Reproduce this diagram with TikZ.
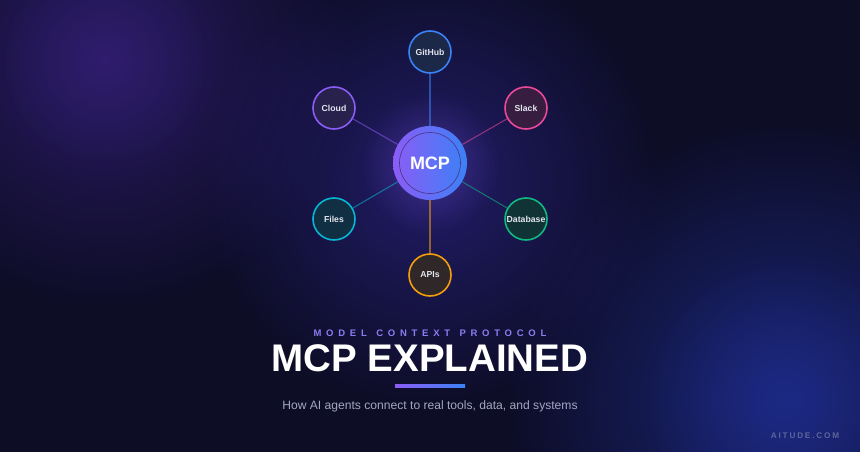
\documentclass[tikz,border=0pt]{standalone}
\usepackage{fontspec}
\setmainfont{Liberation Sans}
\usetikzlibrary{fadings}
\tikzfading[name=glowfade, inner color=transparent!0, outer color=transparent!100]
\definecolor{bgbase}{HTML}{0D0D26}
\definecolor{glowpurple}{HTML}{35207A}
\definecolor{glowblue}{HTML}{1F2E92}
\definecolor{glowmid}{HTML}{2B2385}
\definecolor{cpurple}{HTML}{8B5CF6}
\definecolor{cblue}{HTML}{3B82F6}
\definecolor{cpink}{HTML}{EC4899}
\definecolor{ccyan}{HTML}{06B6D4}
\definecolor{cgreen}{HTML}{10B981}
\definecolor{corange}{HTML}{F59E0B}
\definecolor{fblue}{HTML}{1C2848}
\definecolor{fpurple}{HTML}{28214E}
\definecolor{fpink}{HTML}{371E40}
\definecolor{fcyan}{HTML}{102F42}
\definecolor{fgreen}{HTML}{103436}
\definecolor{forange}{HTML}{302828}
\definecolor{labeltext}{HTML}{E2E4EE}
\definecolor{subtle}{HTML}{8B7CF0}
\definecolor{subgray}{HTML}{A3A6C2}
\definecolor{brand}{HTML}{5D669C}
\tikzset{
  svc/.style={circle, minimum size=42pt, inner sep=0pt, line width=1.6pt,
    font=\bfseries\fontsize{8.7}{10}\selectfont, text=labeltext},
  link/.style={line width=1.1pt, opacity=0.55},
}
\begin{document}
\begin{tikzpicture}[x=1pt,y=-1pt]
\useasboundingbox (0,0) rectangle (860,452);
% background
\fill[bgbase] (0,0) rectangle (860,452);
\begin{scope}
\clip (0,0) rectangle (860,452);
\fill[glowpurple, path fading=glowfade, opacity=0.7] (105,60) circle (250pt);
\fill[glowpurple, path fading=glowfade, opacity=0.5] (105,60) circle (120pt);
\fill[glowblue, path fading=glowfade, opacity=0.75] (785,400) circle (280pt);
\fill[glowblue, path fading=glowfade, opacity=0.5] (785,400) circle (140pt);
\fill[glowmid, path fading=glowfade, opacity=0.7] (430,180) circle (230pt);
\fill[cpurple, path fading=glowfade, opacity=0.3] (430,163) circle (70pt);
\end{scope}
% center node
\shade[left color=cpurple, right color=cblue] (430,163) circle (37pt);
\node[circle, minimum size=61pt, inner sep=0pt, draw=black!45!cpurple, line width=0.6pt,
  font=\bfseries\fontsize{18}{20}\selectfont, text=white] (mcp) at (430,163) {MCP};
\node[circle, minimum size=74pt, inner sep=0pt] (mcpouter) at (430,163) {};
% services
\node[svc, draw=cblue, fill=fblue] (gh) at (430,52) {GitHub};
\node[svc, draw=cpurple, fill=fpurple] (cloud) at (334,108) {Cloud};
\node[svc, draw=cpink, fill=fpink] (slack) at (526,108) {Slack};
\node[svc, draw=ccyan, fill=fcyan] (files) at (334,219) {Files};
\node[svc, draw=cgreen, fill=fgreen] (db) at (526,219) {Database};
\node[svc, draw=corange, fill=forange] (apis) at (430,275) {APIs};
% connectors
\draw[link, cblue] (mcpouter) -- (gh);
\draw[link, cpurple] (mcpouter) -- (cloud);
\draw[link, cpink] (mcpouter) -- (slack);
\draw[link, ccyan] (mcpouter) -- (files);
\draw[link, cgreen] (mcpouter) -- (db);
\draw[link, corange] (mcpouter) -- (apis);
% titles
\node[text=subtle, font=\bfseries\fontsize{9.5}{11}\selectfont\addfontfeature{LetterSpace=50}] (kicker) at (430,333) {MODEL \hspace{2pt}CONTEXT \hspace{2pt}PROTOCOL};
\node[text=white, font=\bfseries\fontsize{38.5}{40}\selectfont] (title) at (430,358) {MCP EXPLAINED};
\shade[left color=cpurple, right color=cblue] (395,384) rectangle (465,387);
\node[text=subgray, font=\fontsize{12.1}{14}\selectfont] (sub) at (430,406) {How AI agents connect to real tools, data, and systems};
\node[text=brand, font=\bfseries\fontsize{8.2}{10}\selectfont\addfontfeature{LetterSpace=22}] (brandname) at (805,436) {AITUDE.COM};
\end{tikzpicture}
\end{document}
